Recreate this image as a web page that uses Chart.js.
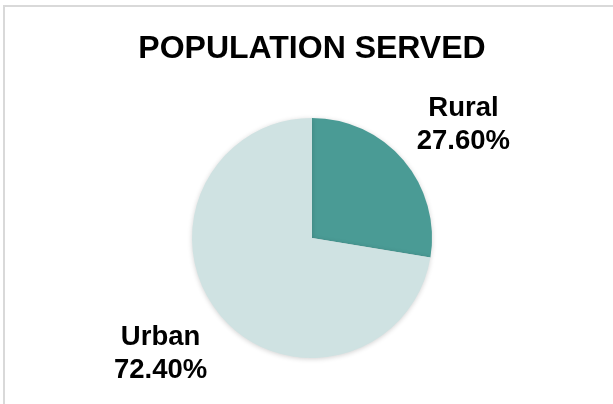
<!DOCTYPE html>
<html>
<head>
<meta charset="utf-8">
<script src="https://cdn.jsdelivr.net/npm/chart.js@4/dist/chart.umd.min.js"></script>
<style>
  html, body { margin: 0; padding: 0; background: #fff; overflow: hidden; }
  #wrap { position: relative; width: 613px; height: 404px; }
  #frame { position: absolute; left: 3px; top: 5px; width: 700px; height: 500px; border: 2px solid #d9d9d9; box-sizing: border-box; }
  canvas { position: absolute; left: 0; top: 0; }
</style>
</head>
<body>
<div id="wrap">
  <div id="frame"></div>
  <canvas id="c" width="613" height="404"></canvas>
</div>
<script>
const categories = ['Rural', 'Urban'];
const shares = [27.6, 72.4];
const sliceColors = ['#4a9b95', '#cfe2e2'];
const chartTitle = 'POPULATION SERVED';

const labelPlugin = {
  id: 'outerLabels',
  afterDatasetsDraw(chart) {
    const ctx = chart.ctx;
    const meta = chart.getDatasetMeta(0);
    ctx.save();
    ctx.font = 'bold 27.5px "Liberation Sans", Arial, sans-serif';
    ctx.fillStyle = '#000';
    ctx.textAlign = 'center';
    ctx.textBaseline = 'middle';
    meta.data.forEach((arc, i) => {
      const p = arc.getProps(['x', 'y', 'startAngle', 'endAngle', 'outerRadius'], true);
      const mid = (p.startAngle + p.endAngle) / 2;
      const lx = p.x + Math.cos(mid) * p.outerRadius * 1.655;
      const ly = p.y + Math.sin(mid) * p.outerRadius * 1.48;
      ctx.fillText(categories[i], lx, ly - 15);
      ctx.fillText(shares[i].toFixed(2) + '%', lx, ly + 18);
    });
    ctx.restore();
  }
};

const shadowPlugin = {
  id: 'pieShadow',
  beforeDatasetsDraw(chart) {
    const ctx = chart.ctx;
    ctx.save();
    ctx.shadowColor = 'rgba(0,0,0,0.18)';
    ctx.shadowBlur = 5;
    ctx.shadowOffsetX = 0;
    ctx.shadowOffsetY = 1;
  },
  afterDatasetsDraw(chart) {
    chart.ctx.restore();
  }
};

new Chart(document.getElementById('c'), {
  type: 'pie',
  data: {
    labels: categories,
    datasets: [{
      data: shares,
      backgroundColor: sliceColors,
      borderWidth: 0
    }]
  },
  options: {
    responsive: false,
    animation: false,
    layout: { padding: { top: 8, bottom: 46, left: 11, right: 0 } },
    plugins: {
      legend: { display: false },
      tooltip: { enabled: false },
      title: {
        display: true,
        text: chartTitle,
        color: '#000',
        font: { family: '"Liberation Sans", Arial, sans-serif', size: 32, weight: 'bold', lineHeight: 1.2 },
        padding: { top: 22, bottom: 49.6 }
      }
    }
  },
  plugins: [shadowPlugin, labelPlugin]
});
</script>
</body>
</html>
